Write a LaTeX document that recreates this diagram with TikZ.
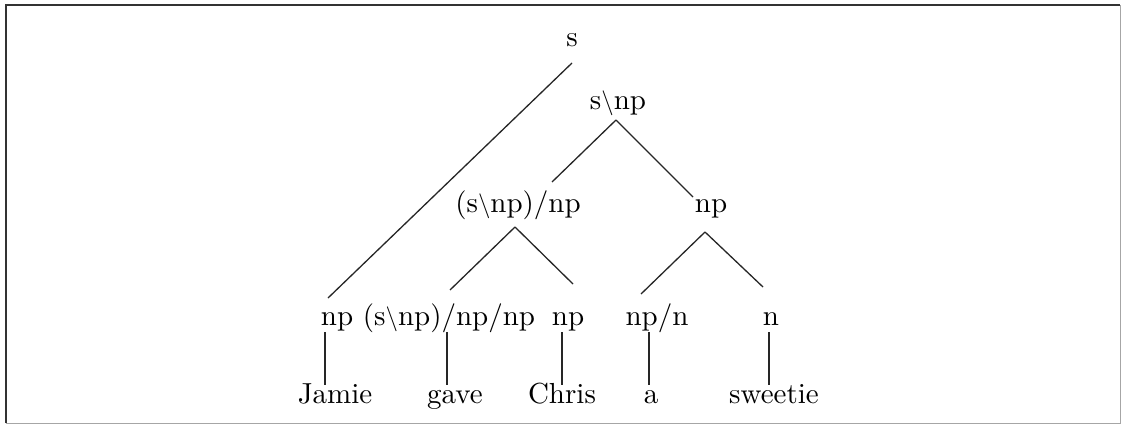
\documentclass[tikz,border=0pt]{standalone}
\usepackage{fontspec}
\setmainfont{lmroman10-regular.otf}
\begin{document}
\begin{tikzpicture}[x=1pt,y=-1pt,
  lab/.style={anchor=base,inner sep=0pt,font=\fontsize{29}{34}\selectfont},
  edge/.style={line width=1.3pt,black!85}]
\useasboundingbox (0,0) rectangle (1124,426);
\fill[white] (0,0) rectangle (1124,426);
% frame
\draw[line width=0.8pt,black!35] (1120,5) -- (1120,423) -- (6,423);
\draw[line width=2.6pt,black!80] (6,423) -- (6,5) -- (1120,5);
\newcommand{\bs}{$\backslash$}
% nodes
\node[lab] (s)   at (572,46)  {s};
\node[lab] (snp) at (618,109) {s\bs np};
\node[lab] (tv)  at (518,212) {(s\bs np)/np};
\node[lab] (npR) at (711,212) {np};
\node[lab] (np1) at (337,325) {np};
\node[lab] (dtv) at (449,325) {(s\bs np)/np/np};
\node[lab] (np2) at (568,325) {np};
\node[lab] (det) at (657,325) {np/n};
\node[lab] (n)   at (771,325) {n};
\node[lab] (w1)  at (335,403) {Jamie};
\node[lab] (w2)  at (455,403) {gave};
\node[lab] (w3)  at (562,403) {Chris};
\node[lab] (w4)  at (651,403) {a};
\node[lab] (w5)  at (774,403) {sweetie};
% connectors
\draw[edge] ([shift={(0,17)}]s.base) -- ([shift={(-9,-27)}]np1.base);
\draw[edge] ([shift={(-2,11)}]snp.base) -- ([shift={(34,-30)}]tv.base);
\draw[edge] ([shift={(-2,11)}]snp.base) -- ([shift={(-18,-15)}]npR.base);
\draw[edge] ([shift={(-3,15)}]tv.base) -- ([shift={(1,-35)}]dtv.base);
\draw[edge] ([shift={(-3,15)}]tv.base) -- ([shift={(5,-41)}]np2.base);
\draw[edge] ([shift={(-6,20)}]npR.base) -- ([shift={(-16,-31)}]det.base);
\draw[edge] ([shift={(-6,20)}]npR.base) -- ([shift={(-8,-38)}]n.base);
\draw[edge] ([shift={(-12,7)}]np1.base) -- ([shift={(-10,-18)}]w1.base);
\draw[edge] ([shift={(-2,7)}]dtv.base) -- ([shift={(-8,-18)}]w2.base);
\draw[edge] ([shift={(-6,7)}]np2.base) -- ([shift={(0,-18)}]w3.base);
\draw[edge] ([shift={(-8,7)}]det.base) -- ([shift={(-2,-18)}]w4.base);
\draw[edge] ([shift={(-2,7)}]n.base) -- ([shift={(-5,-18)}]w5.base);
\end{tikzpicture}
\end{document}
